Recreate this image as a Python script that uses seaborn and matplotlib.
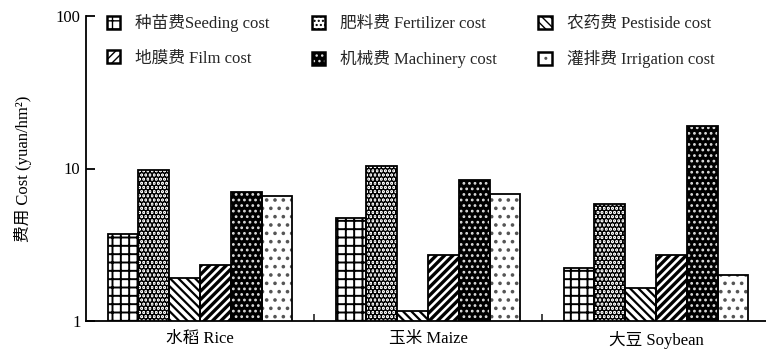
import matplotlib
matplotlib.use("Agg")
import matplotlib.pyplot as plt
import seaborn as sns
import pandas as pd
from matplotlib.patches import Rectangle, Patch
from matplotlib.ticker import FixedLocator, NullLocator, NullFormatter

# Crops on the x axis and the six cost items per crop
crops = ["水稻 Rice", "玉米 Maize", "大豆 Soybean"]
cost_items = ["种苗费Seeding cost", "肥料费 Fertilizer cost", "农药费 Pestiside cost",
              "地膜费 Film cost", "机械费 Machinery cost", "灌排费 Irrigation cost"]

seeding = [3.73, 4.76, 2.24]
fertilizer = [9.78, 10.4, 5.88]
pesticide = [1.92, 1.17, 1.65]
film = [2.32, 2.70, 2.70]
machinery = [7.05, 8.45, 19.0]
irrigation = [6.60, 6.80, 1.99]

y_ticks = [1, 10, 100]
y_label = "费用 Cost (yuan/hm²)"

series = [seeding, fertilizer, pesticide, film, machinery, irrigation]
df = pd.DataFrame([
    {"crop": c, "item": it, "cost": v}
    for it, vals in zip(cost_items, series)
    for c, v in zip(crops, vals)
])

# face colour, hatch, hatch colour, hatch line width for each cost item
styles = [
    ("white", "++", "black", 1.4),
    ("white", "....", "black", 3.0),
    ("white", "\\\\\\\\", "black", 1.6),
    ("white", "////", "black", 2.4),
    ("black", "...", "#dddddd", 1.2),
    ("white", "..", "#555555", 1.4),
]

FS = 12

sns.set_style("ticks")
plt.rcParams["font.family"] = ["Liberation Serif", "Noto Sans CJK SC"]
plt.rcParams["axes.unicode_minus"] = False

fig = plt.figure(figsize=(7.66, 3.57), dpi=100)
ax = fig.add_axes([86 / 766, 36 / 357, 684 / 766, 305 / 357])
ax.set_yscale("log")

palette = {it: s[0] for it, s in zip(cost_items, styles)}
sns.barplot(data=df, x="crop", y="cost", hue="item", order=crops,
            hue_order=cost_items, palette=palette, saturation=1,
            width=0.81, errorbar=None, legend=False, linewidth=0, ax=ax)

handles = []
for cont, (fc, hatch, hc, hlw) in zip(ax.containers, styles):
    for p in cont:
        p.set_hatch(hatch)
        p.set_edgecolor(hc)
        p.set_linewidth(0)
        if hasattr(p, "set_hatch_linewidth"):
            p.set_hatch_linewidth(hlw)
        ax.add_patch(Rectangle(p.get_xy(), p.get_width(), p.get_height(),
                               fill=False, edgecolor="black", linewidth=1.3,
                               zorder=p.get_zorder() + 0.1))
    h_fill = Patch(facecolor=fc, edgecolor=hc, hatch=hatch, linewidth=0)
    if hasattr(h_fill, "set_hatch_linewidth"):
        h_fill.set_hatch_linewidth(hlw)
    h_edge = Patch(fill=False, edgecolor="black", linewidth=1.8)
    handles.append((h_fill, h_edge))

ax.set_ylim(1, 100)
ax.set_xlim(-0.5, 2.5)
ax.yaxis.set_major_locator(FixedLocator(y_ticks))
ax.set_yticklabels([str(t) for t in y_ticks])
ax.yaxis.set_minor_locator(NullLocator())
ax.yaxis.set_minor_formatter(NullFormatter())
ax.xaxis.set_minor_locator(FixedLocator([0.5, 1.5]))

ax.tick_params(axis="y", which="major", direction="in", length=6.5, width=1.3,
               labelsize=FS, pad=4, colors="black")
ax.tick_params(axis="x", which="major", length=0, labelsize=FS, pad=7, colors="black")
ax.tick_params(axis="x", which="minor", direction="in", length=5, width=1.2)

for side in ("top", "right"):
    ax.spines[side].set_visible(False)
for side in ("left", "bottom"):
    ax.spines[side].set_linewidth(1.3)
    ax.spines[side].set_color("black")

ax.set_xlabel("")
ax.set_ylabel(y_label, fontsize=FS, labelpad=17, color="black")

order = [0, 3, 1, 4, 2, 5]
ax.legend([handles[i] for i in order], [cost_items[i] for i in order],
          ncol=3, frameon=False, loc="upper left",
          bbox_to_anchor=(107 / 766, 1 - 14 / 357), bbox_transform=fig.transFigure,
          fontsize=FS, handlelength=0.8, handleheight=0.8, handletextpad=0.9,
          columnspacing=2.5, labelspacing=1.1, borderpad=0, borderaxespad=0)

fig.savefig("out.png", dpi=100)
